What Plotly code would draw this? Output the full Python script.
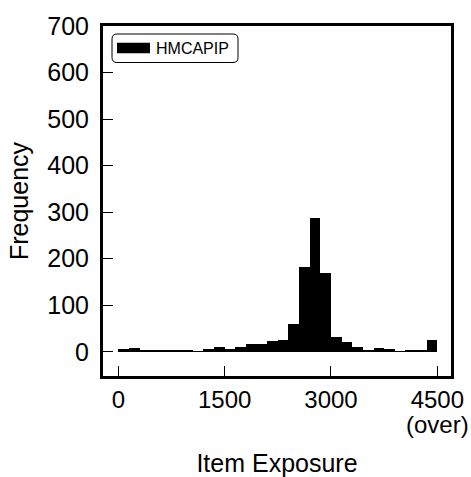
import plotly.graph_objects as go

bin_width = 150
bin_starts = list(range(0, 4500, bin_width))
frequency = [5, 8, 4, 4, 3, 3, 3, 1, 6, 11, 7, 10, 17, 17, 24, 26, 60, 183, 287, 170,
             32, 21, 11, 2, 8, 5, 1, 2, 4, 25]
tick_vals = [0, 1500, 3000, 4500]
tick_text = ["0", "1500", "3000", "4500"]
over_label = "(over)"
y_ticks = [0, 100, 200, 300, 400, 500, 600, 700]
series_name = "HMCAPIP"

FONT = "Liberation Sans, Arial, Helvetica, sans-serif"
W, H = 471, 477
pl, pr, pt, pb = 103, 451, 26, 376

fig = go.Figure()
fig.add_trace(go.Bar(
    x=bin_starts, y=frequency, width=bin_width, offset=0,
    marker=dict(color="black", line=dict(width=0)),
    name=series_name, showlegend=False, hoverinfo="skip",
))

fig.update_layout(
    width=W, height=H,
    margin=dict(l=pl, r=W - pr, t=pt, b=H - pb),
    paper_bgcolor="white", plot_bgcolor="white",
    font=dict(family=FONT, color="black", size=25),
    bargap=0,
)
fig.update_xaxes(
    range=[-216, 4693], tickvals=tick_vals, ticktext=tick_text,
    ticks="inside", ticklen=10, tickwidth=1, tickcolor="black",
    showline=True, linewidth=3, linecolor="black", mirror=True,
    showgrid=False, zeroline=False, automargin=False,
    tickfont=dict(size=24),
    title=dict(text="Item Exposure", font=dict(size=25), standoff=45),
)
fig.update_yaxes(
    range=[-52, 700], tickvals=y_ticks,
    ticks="inside", ticklen=10, tickwidth=1, tickcolor="black",
    showline=True, linewidth=3, linecolor="black", mirror=True,
    showgrid=False, zeroline=False, automargin=False,
    tickfont=dict(size=25), ticklabelstandoff=6,
    title=dict(text="Frequency", font=dict(size=25), standoff=12),
)

def ppx(x): return (x - pl) / (pr - pl)
def ppy(y): return (pb - y) / (pb - pt)

# "(over)" second line under the last tick label
fig.add_annotation(text=over_label, xref="x", yref="paper",
                   x=tick_vals[-1], y=ppy(424), xanchor="center", yanchor="middle",
                   showarrow=False, font=dict(size=24, family=FONT, color="black"))

# custom legend with rounded box (pixel positions converted to paper coords)
x0, x1, y0, y1, r = 112, 238, 34, 62.5, 5
path = (f"M {ppx(x0+r)},{ppy(y0)} L {ppx(x1-r)},{ppy(y0)} Q {ppx(x1)},{ppy(y0)} {ppx(x1)},{ppy(y0+r)} "
        f"L {ppx(x1)},{ppy(y1-r)} Q {ppx(x1)},{ppy(y1)} {ppx(x1-r)},{ppy(y1)} "
        f"L {ppx(x0+r)},{ppy(y1)} Q {ppx(x0)},{ppy(y1)} {ppx(x0)},{ppy(y1-r)} "
        f"L {ppx(x0)},{ppy(y0+r)} Q {ppx(x0)},{ppy(y0)} {ppx(x0+r)},{ppy(y0)} Z")
fig.add_shape(type="path", path=path, xref="paper", yref="paper",
              line=dict(color="black", width=1), fillcolor="white")
fig.add_shape(type="rect", xref="paper", yref="paper",
              x0=ppx(117), x1=ppx(150), y0=ppy(53.3), y1=ppy(42.7),
              fillcolor="black", line=dict(width=0))
fig.add_annotation(text=series_name, xref="paper", yref="paper",
                   x=ppx(154), y=ppy(48.5), xanchor="left", yanchor="middle",
                   showarrow=False, font=dict(size=16, family=FONT, color="black"))

fig.write_html("out.html", config={"displayModeBar": False},
               post_script="document.body.style.margin='0';document.body.style.padding='0';document.body.style.overflow='hidden';")
